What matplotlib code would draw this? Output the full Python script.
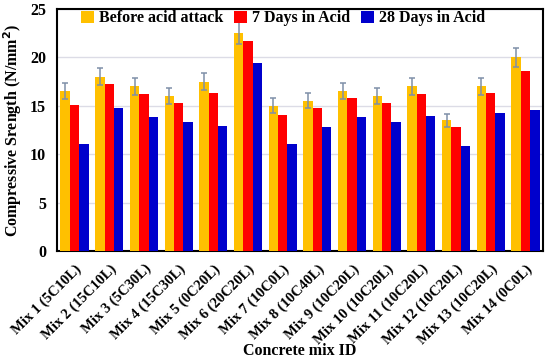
import numpy as np
import matplotlib
matplotlib.use('Agg')
import matplotlib.pyplot as plt

plt.rcParams['font.family'] = ['Liberation Serif', 'DejaVu Serif']
plt.rcParams['font.weight'] = 'bold'

mixes = ['Mix 1 (5C10L)', 'Mix 2 (15C10L)', 'Mix 3 (5C30L)', 'Mix 4 (15C30L)',
         'Mix 5 (0C20L)', 'Mix 6 (20C20L)', 'Mix 7 (10C0L)', 'Mix 8 (10C40L)',
         'Mix 9 (10C20L)', 'Mix 10 (10C20L)', 'Mix 11 (10C20L)', 'Mix 12 (10C20L)',
         'Mix 13 (10C20L)', 'Mix 14 (0C0L)']
before = [16.5, 18.0, 17.0, 16.0, 17.5, 22.5, 15.0, 15.5, 16.5, 16.0, 17.0, 13.5, 17.0, 20.0]
before_err = [0.83, 0.9, 0.85, 0.8, 0.88, 1.13, 0.75, 0.78, 0.83, 0.8, 0.85, 0.68, 0.85, 1.0]
days7 = [15.1, 17.2, 16.2, 15.3, 16.3, 21.7, 14.0, 14.8, 15.8, 15.3, 16.2, 12.8, 16.3, 18.6]
days28 = [11.1, 14.8, 13.8, 13.3, 12.9, 19.4, 11.1, 12.8, 13.8, 13.3, 13.9, 10.8, 14.3, 14.6]

x = np.arange(len(mixes))
w = 0.27

fig = plt.figure(figsize=(5.5, 3.58), dpi=100)
ax = fig.add_axes([0.104, 0.299, 0.883, 0.676])
ax.bar(x - w, before, w, color='#FFC000', label='Before acid attack', zorder=3,
       yerr=before_err, error_kw=dict(ecolor='#7F8FA8', capsize=2.5, elinewidth=1.1, capthick=1.1))
ax.bar(x, days7, w, color='#FF0000', label='7 Days in Acid', zorder=3)
ax.bar(x + w, days28, w, color='#0000CC', label='28 Days in Acid', zorder=3)

ax.set_xlim(-0.5, len(mixes) - 0.5)
ax.set_ylim(0, 25)
ax.set_yticks([0, 5, 10, 15, 20, 25])
ax.yaxis.grid(True, color='#DCDCE6', linewidth=1, zorder=0)
ax.set_xticks(x)
ax.set_xticklabels(mixes, rotation=45, ha='right', rotation_mode='anchor', fontsize=10.5)
ax.tick_params(axis='y', labelsize=11.5, length=0, pad=8)
ax.tick_params(axis='x', length=0, pad=8)
for s in ax.spines.values():
    s.set_linewidth(1.5)
    s.set_color('black')
ax.set_ylabel('Compressive Srength (N/mm$^\\mathbf{2}$)', fontsize=11.5, fontweight='bold', labelpad=4)
ax.set_xlabel('Concrete mix ID', fontsize=11.5, fontweight='bold', labelpad=-3)
ax.legend(loc='upper center', ncol=3, frameon=False, fontsize=11.5, handlelength=0.8,
          handleheight=0.8, handletextpad=0.3, columnspacing=0.7, borderaxespad=0.0,
          bbox_to_anchor=(0.465, 1.02))

fig.savefig('out.png', dpi=100)
